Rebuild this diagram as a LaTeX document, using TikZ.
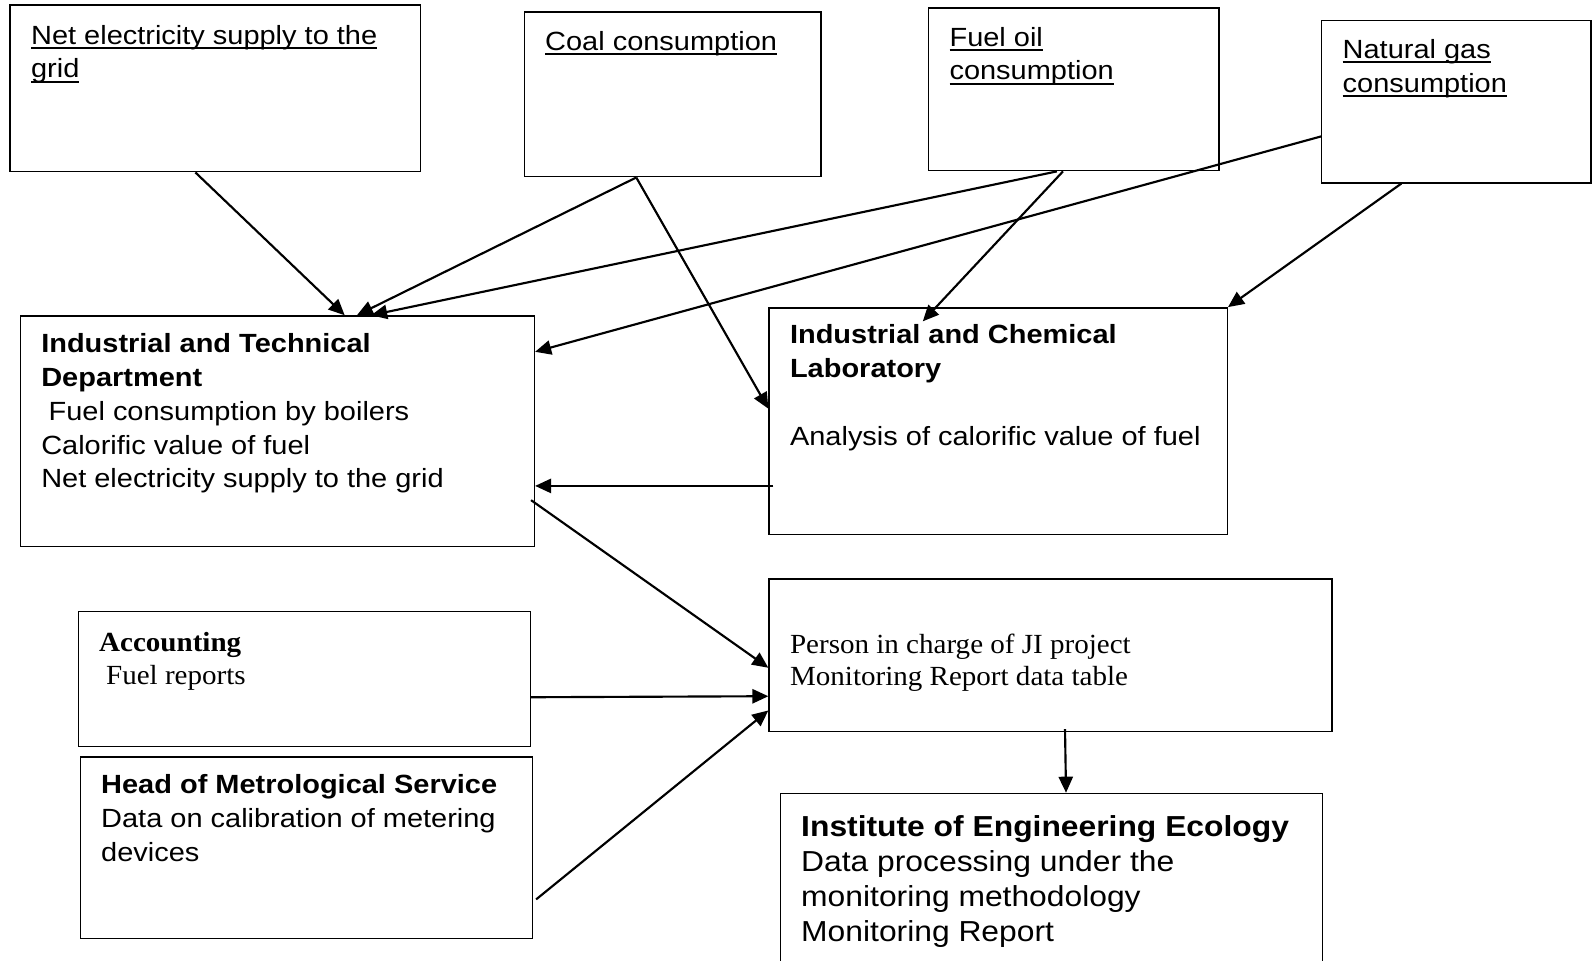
\documentclass[tikz,border=0pt]{standalone}
\usepackage{fontspec}
\setmainfont{Liberation Sans}[FakeStretch=1.1]
\newfontfamily\tnr{Liberation Serif}[FakeStretch=1.05]
\newcommand{\lnk}[1]{\setbox0\hbox{#1}\rlap{\rule[-2.8pt]{\wd0}{1.1pt}}\box0}
\usetikzlibrary{arrows.meta,fit}

\begin{document}
\begin{tikzpicture}[x=0.02cm,y=-0.02cm,>={Triangle[length=9pt,width=8pt]},
    blk/.style={draw,line width=.8pt,inner sep=0pt},
    lbl/.style={anchor=north west,align=left,inner xsep=.42cm,inner ysep=.36cm,
        font=\fontsize{14.75}{18.9}\selectfont},
    lblr/.style={lbl,font=\tnr\fontsize{15.5}{18.1}\selectfont},
    con/.style={->,line width=1.2pt}]
\useasboundingbox (0,0) rectangle (1568,945);

% sources
\node[blk,fit={(10,5) (414,169)},
    label={[lbl,inner ysep=.4cm]north west:{\lnk{Net electricity supply to the}\\\lnk{grid}}}] (net) {};
\node[blk,fit={(516,12) (808,174)},
    label={[lbl,inner ysep=.38cm]north west:{\lnk{Coal consumption}}}] (coal) {};
\node[blk,fit={(914,8) (1200,168)},
    label={[lbl,inner ysep=.38cm]north west:{\lnk{Fuel oil}\\\lnk{consumption}}}] (oil) {};
\node[blk,fit={(1301,20) (1566,180)},
    label={[lbl,inner ysep=.38cm]north west:{\lnk{Natural gas}\\\lnk{consumption}}}] (gas) {};

% departments
\node[blk,fit={(20,311) (526,538)},
    label={[lbl]north west:{\bfseries Industrial and Technical\\\bfseries Department\\
    \hspace*{.28em}Fuel consumption by boilers\\Calorific value of fuel\\
    Net electricity supply to the grid}}] (itd) {};
\node[blk,fit={(757,303) (1208,526)},
    label={[lbl,inner ysep=.34cm]north west:{\bfseries Industrial and Chemical\\
    \bfseries Laboratory\\[18.9pt]Analysis of calorific value of fuel}}] (icl) {};
\node[blk,fit={(77,602) (522,735)},
    label={[lblr,inner ysep=.42cm]north west:{\bfseries Accounting\\\hspace*{.25em}Fuel reports}}] (acc) {};
\node[blk,fit={(79,745) (524,924)},
    label={[lbl]north west:{\bfseries Head of Metrological Service\\
    Data on calibration of metering\\devices}}] (met) {};
\node[blk,fit={(757,570) (1311,720)},
    label={[lblr,inner ysep=1.08cm]north west:{Person in charge of JI project\\
    Monitoring Report data table}}] (jip) {};
\node[blk,fit={(768,781) (1302,950)},
    label={[lbl,inner ysep=.45cm,font=\fontsize{16.2}{19.5}\selectfont]north west:{%
    \bfseries Institute of Engineering Ecology\\Data processing under the\\
    monitoring methodology\\Monitoring Report}}] (iee) {};

% data flows
\draw[con] ([shift={(183,0)}]net.south west) -- ([shift={(320,0)}]itd.north west);
\draw[con] ([shift={(111,0)}]coal.south west) -- ([shift={(332,0)}]itd.north west);
\draw[con] ([shift={(127,0)}]oil.south west) -- ([shift={(346,0)}]itd.north west);
\draw[con] ([shift={(0,115)}]gas.north west) -- ([shift={(0,36)}]itd.north east);
\draw[con] ([shift={(133,0)}]oil.south west) -- ([shift={(152,14)}]icl.north west);
\draw[con] ([shift={(79,0)}]gas.south west) -- (icl.north east);
\draw[con] ([shift={(111,0)}]coal.south west) -- ([shift={(0,100)}]icl.north west);
\draw[con] ([shift={(5,176)}]icl.north west) -- ([shift={(0,168)}]itd.north east);
\draw[con] ([shift={(-4,182)}]itd.north east) -- ([shift={(0,88)}]jip.north west);
\draw[con] ([shift={(0,85)}]acc.north east) -- ([shift={(0,116)}]jip.north west);
\draw[con] ([shift={(3,141)}]met.north east) -- ([shift={(0,130)}]jip.north west);
\draw[con] ([shift={(292,-3)}]jip.south west) -- ([shift={(282,0)}]iee.north west);
\end{tikzpicture}
\end{document}
